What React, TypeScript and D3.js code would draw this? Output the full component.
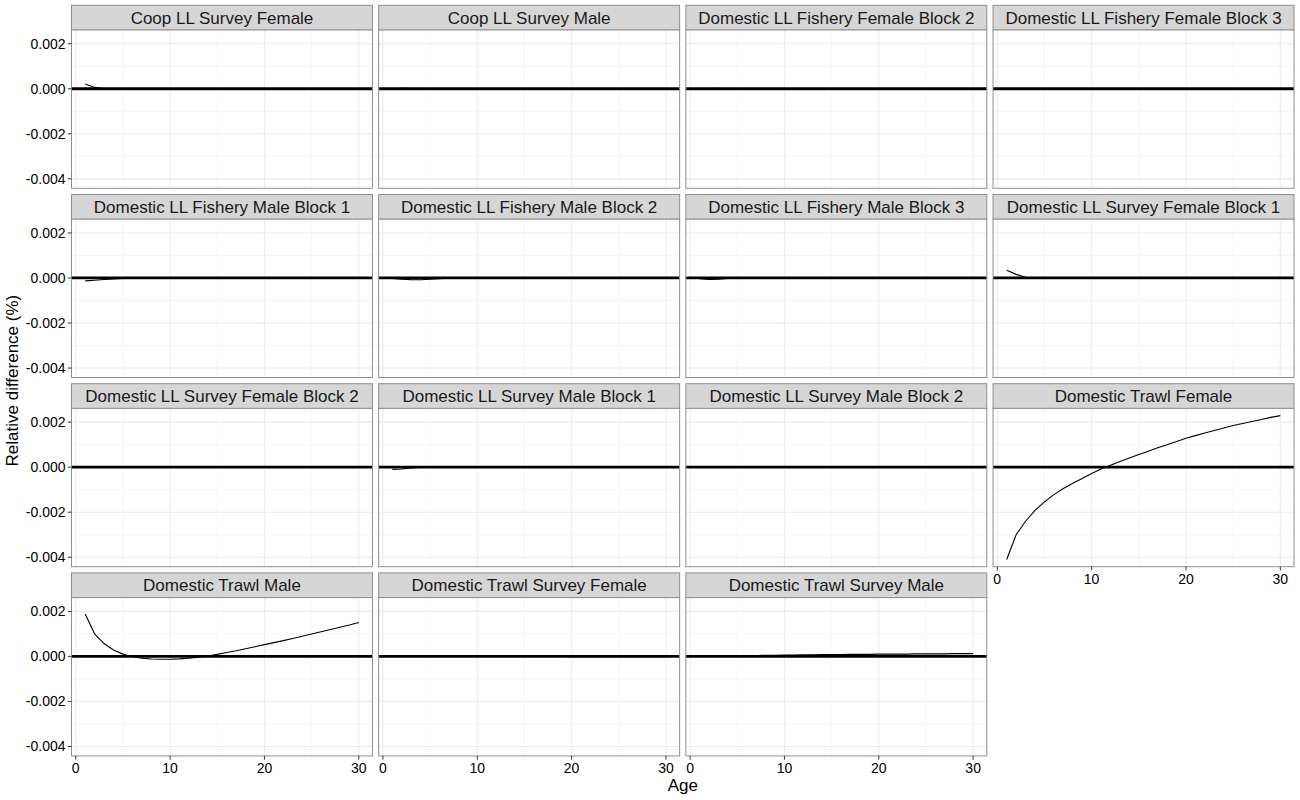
import * as d3 from 'd3'

// ages 1..30
const ages = [1, 2, 3, 4, 5, 6, 7, 8, 9, 10, 11, 12, 13, 14, 15, 16, 17, 18, 19, 20, 21, 22, 23, 24, 25, 26, 27, 28, 29, 30]

const coopSurveyFemale = [0.00021, 0.00006, 0.00001, 0, 0, 0, 0, 0, 0, 0, 0, 0, 0, 0, 0, 0, 0, 0, 0, 0, 0, 0, 0, 0, 0, 0, 0, 0, 0, 0]
const coopSurveyMale = [0.00001, 0.00002, 0.00001, 0, 0, 0, 0, 0, 0, 0, 0, 0, 0, 0, 0, 0, 0, 0, 0, 0, 0, 0, 0, 0, 0, 0, 0, 0, 0, 0]
const llFisheryFemaleB2 = [0, 0.00001, 0.00002, 0.00001, 0, 0, 0, 0, 0, 0, 0, 0, 0, 0, 0, 0, 0, 0, 0, 0, 0, 0, 0, 0, 0, 0, 0, 0, 0, 0]
const llFisheryFemaleB3 = [0, -0.00001, -0.00001, 0, 0, 0, 0, 0, 0, 0, 0, 0, 0, 0, 0, 0, 0, 0, 0, 0, 0, 0, 0, 0, 0, 0, 0, 0, 0, 0]
const llFisheryMaleB1 = [-0.00013, -0.0001, -0.00007, -0.00004, -0.00002, -0.00001, 0, 0, 0, 0, 0, 0, 0, 0, 0, 0, 0, 0, 0, 0, 0, 0, 0, 0, 0, 0, 0, 0, 0, 0]
const llFisheryMaleB2 = [-0.00002, -0.00005, -0.00008, -0.00008, -0.00006, -0.00003, -0.00001, 0, 0, 0, 0, 0, 0, 0, 0, 0, 0, 0, 0, 0, 0, 0, 0, 0, 0, 0, 0, 0, 0, 0]
const llFisheryMaleB3 = [-0.00003, -0.00007, -0.00006, -0.00002, 0, 0, 0, 0, 0, 0, 0, 0, 0, 0, 0, 0, 0, 0, 0, 0, 0, 0, 0, 0, 0, 0, 0, 0, 0, 0]
const llSurveyFemaleB1 = [0.00034, 0.00016, 0.00003, 0, 0, 0, 0, 0, 0, 0, 0, 0, 0, 0, 0, 0, 0, 0, 0, 0, 0, 0, 0, 0, 0, 0, 0, 0, 0, 0]
const llSurveyFemaleB2 = [0.00002, 0.00001, 0, 0, 0, 0, 0, 0, 0, 0, 0, 0, 0, 0, 0, 0, 0, 0, 0, 0, 0, 0, 0, 0, 0, 0, 0, 0, 0, 0]
const llSurveyMaleB1 = [-0.0001, -0.00008, -0.00003, -0.00001, 0, 0, 0, 0, 0, 0, 0, 0, 0, 0, 0, 0, 0, 0, 0, 0, 0, 0, 0, 0, 0, 0, 0, 0, 0, 0]
const llSurveyMaleB2 = [0, 0, 0, 0, 0, 0, 0, 0, 0, 0, 0, 0, 0, 0, 0, 0, 0, 0, 0, 0, 0, 0, 0, 0, 0, 0, 0, 0, 0, 0]
const trawlFemale = [-0.0041, -0.003, -0.0024, -0.00192, -0.00154, -0.00122, -0.00095, -0.00071, -0.0005, -0.00028, -0.00008, 0.00009, 0.00025, 0.00041, 0.00056, 0.00071, 0.00086, 0.001, 0.00114, 0.00128, 0.0014, 0.00152, 0.00163, 0.00174, 0.00185, 0.00194, 0.00203, 0.00212, 0.00221, 0.00229]
const trawlMale = [0.00188, 0.001, 0.00057, 0.00028, 0.0001, -0.00002, -0.00008, -0.00012, -0.00013, -0.00013, -0.00011, -0.00008, -0.00004, 0.00001, 0.00009, 0.00017, 0.00025, 0.00034, 0.00043, 0.00052, 0.00061, 0.0007, 0.00079, 0.00089, 0.00099, 0.00109, 0.00119, 0.00129, 0.00139, 0.0015]
const trawlSurveyFemale = [0, 0, 0, 0, 0, 0, 0, 0, 0, 0, 0, 0, 0, 0, 0, 0, 0, 0, 0, -0.00001, -0.00001, -0.00001, -0.00001, -0.00001, -0.00002, -0.00002, -0.00002, -0.00002, -0.00002, -0.00002]
const trawlSurveyMale = [0, 0.00001, 0.00002, 0.00002, 0.00003, 0.00004, 0.00004, 0.00005, 0.00005, 0.00006, 0.00006, 0.00007, 0.00007, 0.00008, 0.00008, 0.00008, 0.00009, 0.00009, 0.00009, 0.0001, 0.0001, 0.0001, 0.0001, 0.00011, 0.00011, 0.00011, 0.00011, 0.00012, 0.00012, 0.00012]

const panelTitles = [
  'Coop LL Survey Female', 'Coop LL Survey Male', 'Domestic LL Fishery Female Block 2', 'Domestic LL Fishery Female Block 3',
  'Domestic LL Fishery Male Block 1', 'Domestic LL Fishery Male Block 2', 'Domestic LL Fishery Male Block 3', 'Domestic LL Survey Female Block 1',
  'Domestic LL Survey Female Block 2', 'Domestic LL Survey Male Block 1', 'Domestic LL Survey Male Block 2', 'Domestic Trawl Female',
  'Domestic Trawl Male', 'Domestic Trawl Survey Female', 'Domestic Trawl Survey Male',
]
const panelSeries = [
  coopSurveyFemale, coopSurveyMale, llFisheryFemaleB2, llFisheryFemaleB3,
  llFisheryMaleB1, llFisheryMaleB2, llFisheryMaleB3, llSurveyFemaleB1,
  llSurveyFemaleB2, llSurveyMaleB1, llSurveyMaleB2, trawlFemale,
  trawlMale, trawlSurveyFemale, trawlSurveyMale,
]

const xTicks = [0, 10, 20, 30]
const xMinor = [5, 15, 25]
const yTicks = [-0.004, -0.002, 0, 0.002]
const yMinor = [-0.003, -0.001, 0.001]

const W = 1300
const H = 800
const pad = { l: 71.5, r: 6, t: 5.3, b: 44.1 }
const gap = 6.2
const stripH = 24.7
const nCol = 4
const nRow = 4
const panelW = (W - pad.l - pad.r - gap * (nCol - 1)) / nCol
const panelH = (H - pad.t - pad.b - gap * (nRow - 1)) / nRow
const plotH = panelH - stripH
const FONT = 'Liberation Sans, Arial, Helvetica, sans-serif'
const BORDER = '#8f8f8f'

function expand(ext: [number, number]): [number, number] {
  const d = (ext[1] - ext[0]) * 0.05
  return [ext[0] - d, ext[1] + d]
}

const x = d3.scaleLinear().domain(expand(d3.extent(ages) as [number, number])).range([0, panelW])
const allVals = panelSeries.flat()
const y = d3.scaleLinear().domain(expand(d3.extent(allVals) as [number, number])).range([plotH, 0])
const line = d3.line<number>().x((_, i) => x(ages[i])).y(d => y(d))

export default function App() {
  const n = panelTitles.length
  const isBottom = (i: number) => i + nCol >= n
  return (
    <svg width={W} height={H} style={{ position: 'absolute', left: 0, top: 0, background: '#fff' }} fontFamily={FONT}>
      <rect width={W} height={H} fill="#fff" />
      {panelTitles.map((title, i) => {
        const col = i % nCol
        const row = Math.floor(i / nCol)
        const px = pad.l + col * (panelW + gap)
        const py = pad.t + row * (panelH + gap)
        return (
          <g key={title} transform={`translate(${px},${py})`}>
            <rect width={panelW} height={stripH} fill="#d6d6d6" stroke={BORDER} strokeWidth={1} />
            <text x={panelW / 2} y={stripH / 2 + 6} textAnchor="middle" fontSize={17} fill="#1a1a1a">{title}</text>
            <g transform={`translate(0,${stripH})`}>
              <rect width={panelW} height={plotH} fill="#fff" />
              {yMinor.map(t => <line key={'ym' + t} x1={0} x2={panelW} y1={y(t)} y2={y(t)} stroke="#f0f0f0" strokeWidth={0.6} />)}
              {xMinor.map(t => <line key={'xm' + t} x1={x(t)} x2={x(t)} y1={0} y2={plotH} stroke="#f0f0f0" strokeWidth={0.6} />)}
              {yTicks.map(t => <line key={'yg' + t} x1={0} x2={panelW} y1={y(t)} y2={y(t)} stroke="#ebebeb" strokeWidth={1.1} />)}
              {xTicks.map(t => <line key={'xg' + t} x1={x(t)} x2={x(t)} y1={0} y2={plotH} stroke="#ebebeb" strokeWidth={1.1} />)}
              <path d={line(panelSeries[i]) || ''} fill="none" stroke="#000" strokeWidth={1.1} />
              <line x1={0} x2={panelW} y1={y(0)} y2={y(0)} stroke="#000" strokeWidth={2.8} />
              <rect width={panelW} height={plotH} fill="none" stroke={BORDER} strokeWidth={1} />
              {col === 0 && yTicks.map(t => (
                <g key={'yt' + t}>
                  <line x1={-3.7} x2={0} y1={y(t)} y2={y(t)} stroke="#333" strokeWidth={1} />
                  <text x={-6} y={y(t) + 5} textAnchor="end" fontSize={14} fill="#000">{d3.format('.3f')(t).replace('−', '-')}</text>
                </g>
              ))}
              {isBottom(i) && xTicks.map(t => (
                <g key={'xt' + t}>
                  <line x1={x(t)} x2={x(t)} y1={plotH} y2={plotH + 3.7} stroke="#333" strokeWidth={1} />
                  <text x={x(t)} y={plotH + 17.5} textAnchor="middle" fontSize={14} fill="#000">{t}</text>
                </g>
              ))}
            </g>
          </g>
        )
      })}
      <text x={pad.l + (W - pad.l - pad.r) / 2} y={H - 9} textAnchor="middle" fontSize={17} fill="#000">Age</text>
      <text transform={`translate(18,${pad.t + (H - pad.t - pad.b) / 2}) rotate(-90)`} textAnchor="middle" fontSize={17} fill="#000">Relative difference (%)</text>
    </svg>
  )
}
